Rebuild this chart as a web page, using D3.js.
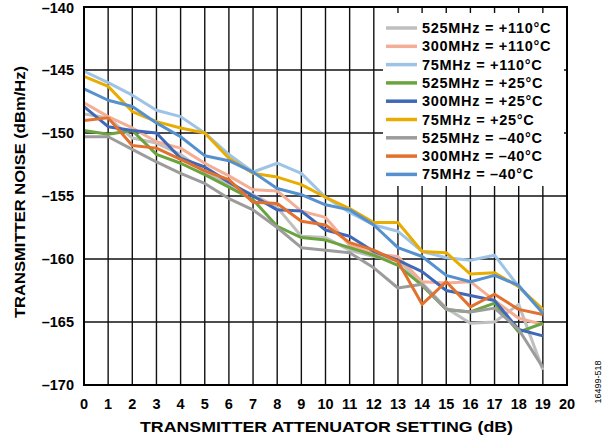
<!DOCTYPE html>
<html>
<head>
<meta charset="utf-8">
<style>
    body { margin: 0; background: #fff; }
    svg { font-family: Arial, "Liberation Sans", sans-serif; }
    .tick-label { font-size: 14.5px; font-weight: bold; fill: #000; }
    .axis-title { font-size: 14px; font-weight: bold; fill: #000; }
    .legend text { font-size: 14.5px; font-weight: bold; fill: #000; letter-spacing: 0.7px; }
</style>
</head>
<body>
<svg width="609" height="444"></svg>
<script src="https://d3js.org/d3.v7.min.js"></script>
<script>
// attenuator settings (dB)
let steps = d3.range(0, 20)
let xTicks = d3.range(0, 21)
let yTicks = [-170, -165, -160, -155, -150, -145, -140]

let seriesNames = [
    "525MHz = +110°C", "300MHz = +110°C", "75MHz = +110°C",
    "525MHz = +25°C", "300MHz = +25°C", "75MHz = +25°C",
    "525MHz = \u201340°C", "300MHz = \u201340°C", "75MHz = \u201340°C"
]
let seriesColors = [
    "#BFBFBF", "#F4AE96", "#9DC3E6",
    "#6BA43F", "#3F68B8", "#E8AD00",
    "#9C9C9C", "#E2712D", "#5591CF"
]

// transmitter noise (dBm/Hz)
let n525hot = [-148.5, -148.8, -150.4, -150.8, -151.7, -153.1, -154.1, -154.9, -155.9, -158.2,
    -158.3, -159.3, -159.8, -160.1, -161.9, -163.9, -165.1, -165.0, -163.6, -168.8]
let n300hot = [-147.6, -148.7, -149.6, -150.7, -151.2, -152.4, -153.4, -154.5, -154.6, -156.2,
    -156.7, -158.9, -159.6, -159.8, -161.8, -161.9, -161.8, -163.3, -164.7, -165.2]
let n75hot = [-145.1, -146.0, -147.0, -148.2, -148.7, -150.0, -151.7, -153.1, -152.4, -153.2,
    -155.1, -156.3, -157.3, -157.8, -159.4, -159.9, -160.1, -159.7, -162.2, -164.2]
let n525room = [-149.8, -150.1, -149.8, -151.7, -152.4, -153.3, -154.3, -155.3, -157.4, -158.3,
    -158.5, -159.1, -159.7, -160.5, -162.1, -164.0, -164.2, -163.5, -165.8, -165.1]
let n300room = [-147.9, -149.5, -149.8, -150.0, -152.0, -152.7, -153.9, -155.0, -156.1, -156.2,
    -157.7, -158.2, -159.4, -160.1, -161.0, -162.5, -162.9, -163.3, -165.6, -166.1]
let n75room = [-145.5, -146.3, -148.3, -149.1, -149.6, -150.0, -152.0, -153.2, -153.5, -154.1,
    -155.1, -156.0, -157.1, -157.1, -159.4, -159.5, -161.2, -161.1, -162.2, -164.0]
let n525cold = [-150.3, -150.3, -151.3, -152.3, -153.2, -154.0, -155.2, -156.1, -157.5, -159.1,
    -159.3, -159.5, -160.7, -162.3, -162.0, -164.0, -164.2, -163.9, -165.6, -168.6]
let n300cold = [-149.0, -148.8, -151.0, -151.2, -152.1, -153.0, -153.7, -155.5, -155.6, -157.0,
    -157.3, -158.7, -159.3, -160.2, -163.6, -161.8, -163.8, -162.8, -164.0, -164.4]
let n75cold = [-146.5, -147.4, -147.9, -149.2, -150.3, -151.8, -152.2, -153.1, -154.4, -154.9,
    -155.7, -156.1, -157.3, -159.1, -159.8, -161.3, -161.8, -161.3, -162.1, -164.3]

let seriesValues = [n525hot, n300hot, n75hot, n525room, n300room, n75room, n525cold, n300cold, n75cold]

let svg = d3.select("svg")
let margin = { top: 7, right: 42, bottom: 59, left: 84 }
let width = 609, height = 444

let x = d3.scaleLinear().domain([0, 20]).range([margin.left, width - margin.right])
let y = d3.scaleLinear().domain([-170, -140]).range([height - margin.bottom, margin.top])

// grid
svg.append("g")
    .selectAll("line")
    .data(xTicks)
    .join("line")
    .attr("x1", d => x(d)).attr("x2", d => x(d))
    .attr("y1", y(-140)).attr("y2", y(-170))
    .style("stroke", "#111").style("stroke-width", 1.4)

svg.append("g")
    .selectAll("line")
    .data(yTicks)
    .join("line")
    .attr("x1", x(0)).attr("x2", x(20))
    .attr("y1", d => y(d)).attr("y2", d => y(d))
    .style("stroke", "#111").style("stroke-width", 1.4)

// legend background hides the grid behind it
let legendX = 383, legendY = 13
svg.append("rect")
    .attr("x", legendX).attr("y", legendY)
    .attr("width", 181).attr("height", 173)
    .style("fill", "#fff")

// series lines
let line = d3.line()
    .x((d, i) => x(steps[i]))
    .y(d => y(d))

svg.append("g")
    .selectAll("path")
    .data(seriesValues)
    .join("path")
    .attr("d", d => line(d))
    .style("fill", "none")
    .style("stroke", (d, i) => seriesColors[i])
    .style("stroke-width", 3)
    .style("stroke-linejoin", "round")

// frame
svg.append("rect")
    .attr("x", x(0)).attr("y", y(-140))
    .attr("width", x(20) - x(0)).attr("height", y(-170) - y(-140))
    .style("fill", "none").style("stroke", "#000").style("stroke-width", 2)

// tick labels
svg.append("g")
    .selectAll("text")
    .data(xTicks)
    .join("text")
    .attr("class", "tick-label")
    .attr("x", d => x(d))
    .attr("y", 409)
    .attr("text-anchor", "middle")
    .text(d => d)

svg.append("g")
    .selectAll("text")
    .data(yTicks)
    .join("text")
    .attr("class", "tick-label")
    .attr("x", 74)
    .attr("y", d => Math.max(y(d) + 5, 13))
    .attr("text-anchor", "end")
    .text(d => "\u2013" + Math.abs(d))

// axis titles
svg.append("text")
    .attr("class", "axis-title")
    .attr("x", 140)
    .attr("y", 432)
    .attr("textLength", 373)
    .attr("lengthAdjust", "spacingAndGlyphs")
    .text("TRANSMITTER ATTENUATOR SETTING (dB)")

svg.append("text")
    .attr("class", "axis-title")
    .attr("transform", "translate(25,318) rotate(-90)")
    .attr("textLength", 252)
    .attr("lengthAdjust", "spacingAndGlyphs")
    .text("TRANSMITTER NOISE (dBm/Hz)")

svg.append("text")
    .attr("transform", "translate(601,382) rotate(-90)")
    .attr("text-anchor", "middle")
    .style("font-size", "9px")
    .text("16499-518")

// legend
let legend = svg.append("g").attr("class", "legend")
let rows = legend.selectAll("g")
    .data(seriesNames)
    .join("g")
    .attr("transform", (d, i) => "translate(" + legendX + "," + (legendY + 15 + i * 18.3) + ")")

rows.append("line")
    .attr("x1", 3).attr("x2", 34)
    .attr("y1", 0).attr("y2", 0)
    .style("stroke", (d, i) => seriesColors[i])
    .style("stroke-width", 3.5)

rows.append("text")
    .attr("x", 39)
    .attr("y", 5)
    .text(d => d)
</script>
</body>
</html>
